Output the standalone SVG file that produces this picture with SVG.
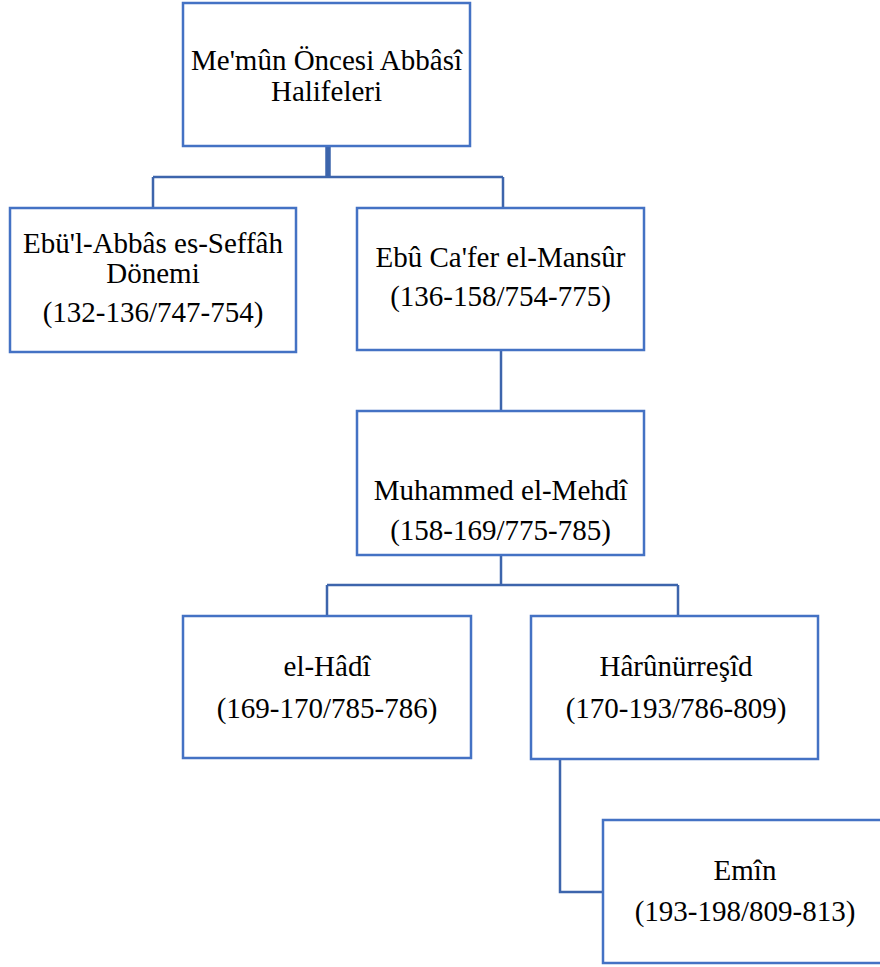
<svg xmlns="http://www.w3.org/2000/svg" width="880" height="967" viewBox="0 0 880 967">
<style>
.box{fill:#fff;stroke:#4472C4;stroke-width:2.5}
.c{fill:none;stroke:#3D65AC;stroke-width:2.5}
.t{font-family:"Times New Roman","Liberation Serif",serif;font-size:29px;fill:#000;text-anchor:middle}
</style>
<rect width="880" height="967" fill="#fff"/>
<g id="connectors">
<path class="c" d="M328 146V177M153 177H503M153 177V208M503 177V208" />
<path class="c" d="M326.5 146V177M329.5 146V177" stroke-width="1.5"/>
<path class="c" d="M501 350V411"/>
<path class="c" d="M501 555V585M327 585H678M327 585V616M678 585V616"/>
<path class="c" d="M560 759V892H603"/>
</g>
<g id="n1"><rect class="box" x="183" y="3" width="287" height="143"/>
<text class="t" x="326.5" y="70">Me'mûn Öncesi Abbâsî</text><text class="t" x="326.5" y="101">Halifeleri</text></g>
<g id="n2"><rect class="box" x="10" y="208" width="286" height="144"/>
<text class="t" x="153" y="253">Ebü'l-Abbâs es-Seffâh</text><text class="t" x="153" y="283">Dönemi</text><text class="t" x="153" y="322">(132-136/747-754)</text></g>
<g id="n3"><rect class="box" x="357" y="208" width="287" height="142"/>
<text class="t" x="500.5" y="267">Ebû Ca'fer el-Mansûr</text><text class="t" x="500.5" y="306">(136-158/754-775)</text></g>
<g id="n4"><rect class="box" x="357" y="411" width="287" height="144"/>
<text class="t" x="500.5" y="500">Muhammed el-Mehdî</text><text class="t" x="500.5" y="540">(158-169/775-785)</text></g>
<g id="n5"><rect class="box" x="183" y="616" width="288" height="142"/>
<text class="t" x="327" y="676">el-Hâdî</text><text class="t" x="327" y="718">(169-170/785-786)</text></g>
<g id="n6"><rect class="box" x="531" y="616" width="287" height="143"/>
<text class="t" x="676" y="676">Hârûnürreşîd</text><text class="t" x="676" y="718">(170-193/786-809)</text></g>
<g id="n7"><rect class="box" x="603" y="820" width="285" height="143"/>
<text class="t" x="745" y="880">Emîn</text><text class="t" x="745" y="921">(193-198/809-813)</text></g>
</svg>
